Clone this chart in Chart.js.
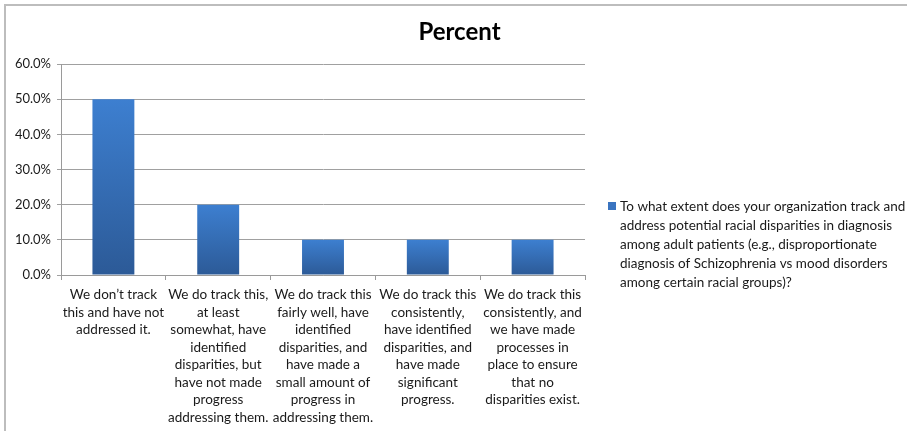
<!DOCTYPE html>
<html>
<head>
<meta charset="utf-8">
<script src="https://cdn.jsdelivr.net/npm/chart.js@4"></script>
<style>
	html, body { margin: 0; padding: 0; background: #fff; }
	#wrap { width: 907px; height: 431px; position: relative; }
</style>
</head>
<body>
<div id="wrap"><canvas id="chart"></canvas></div>
<script>
const categories = [
	["We don’t track", "this and have not", "addressed it."],
	["We do track this,", "at least", "somewhat, have", "identified", "disparities, but", "have not made", "progress", "addressing them."],
	["We do track this", "fairly well, have", "identified", "disparities, and", "have made a", "small amount of", "progress in", "addressing them."],
	["We do track this", "consistently,", "have identified", "disparities, and", "have made", "significant", "progress."],
	["We do track this", "consistently, and", "we have made", "processes in", "place to ensure", "that no", "disparities exist."],
]
const percent = [50, 20, 10, 10, 10]
const seriesName = ["To what extent does your organization track and", "address potential racial disparities in diagnosis", "among adult patients (e.g., disproportionate", "diagnosis of Schizophrenia vs mood disorders", "among certain racial groups)?"]
const chartTitle = 'Percent'
const yTicks = { min: 0, max: 60, step: 10 }

const FONT = "Lato, 'Liberation Sans', sans-serif"

// vertical gradient for each bar, light blue on top fading darker to the base
function barFill(ctx) {
	const chart = ctx.chart
	if (!chart.chartArea || ctx.type !== 'data') return '#3a74c0'
	const y = chart.scales.y
	const top = y.getPixelForValue(ctx.raw)
	const bottom = y.getPixelForValue(0)
	const g = chart.ctx.createLinearGradient(0, top, 0, bottom)
	g.addColorStop(0, '#3d7fd0')
	g.addColorStop(1, '#2c5a97')
	return g
}

// frame lines, title across the whole canvas and the side legend
const decor = {
	id: 'decor',
	beforeDraw(chart) {
		const c = chart.ctx
		c.save()
		c.strokeStyle = '#bdbdbd'
		c.lineWidth = 2
		c.beginPath()
		c.moveTo(5, chart.height)
		c.lineTo(5, 5)
		c.lineTo(chart.width, 5)
		c.stroke()
		c.restore()
	},
	afterDraw(chart) {
		const c = chart.ctx
		const area = chart.chartArea
		c.save()
		c.fillStyle = '#000'
		c.font = "bold 24px " + FONT
		c.textAlign = 'center'
		c.textBaseline = 'middle'
		c.fillText(chartTitle, chart.width / 2 + 6, 32)

		const x = area.right + 23
		const y0 = 207
		c.textAlign = 'left'
		c.fillStyle = '#3a74c0'
		c.fillRect(x, y0 - 5, 8, 8)
		c.fillStyle = '#1a1a1a'
		c.font = "13.5px " + FONT
		for (let i = 0; i < seriesName.length; i++) {
			c.fillText(seriesName[i], x + 12, y0 + i * 19)
		}
		c.restore()
	}
}

new Chart(document.getElementById("chart"), {
	type: 'bar',
	data: {
		labels: categories,
		datasets: [{
			label: seriesName.join(' '),
			data: percent,
			backgroundColor: barFill,
			barPercentage: 0.4,
			categoryPercentage: 1,
		}],
	},
	options: {
		animation: false,
		responsive: true,
		maintainAspectRatio: false,
		layout: {
			padding: { left: 6, right: 322, top: 64, bottom: 0 },
		},
		plugins: {
			legend: { display: false },
			tooltip: { enabled: false },
			title: { display: false },
		},
		scales: {
			x: {
				grid: {
					display: true,
					offset: true,
					drawOnChartArea: false,
					drawTicks: true,
					tickLength: 5,
					color: '#9a9a9a',
				},
				border: { color: '#9a9a9a' },
				ticks: {
					autoSkip: false,
					maxRotation: 0,
					minRotation: 0,
					padding: 6,
					color: '#1a1a1a',
					font: { family: FONT, size: 13.5, lineHeight: 1.3 },
				},
				afterFit(scale) { scale.height = 156 },
			},
			y: {
				min: yTicks.min,
				max: yTicks.max,
				grid: {
					color: '#a0a0a0',
					drawTicks: true,
					tickLength: 4,
				},
				border: { color: '#9a9a9a' },
				ticks: {
					stepSize: yTicks.step,
					padding: 6,
					color: '#1a1a1a',
					font: { family: FONT, size: 13 },
					callback: v => v.toFixed(1) + '%',
				},
				afterFit(scale) { scale.width = 55 },
			},
		},
	},
	plugins: [decor],
});
</script>
</body>
</html>
